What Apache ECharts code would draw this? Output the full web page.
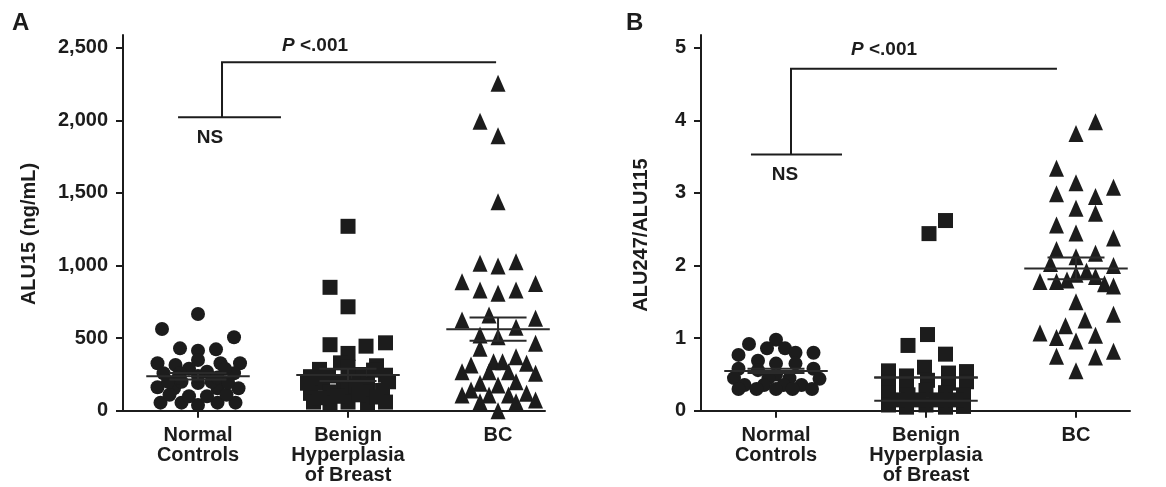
<!DOCTYPE html>
<html><head><meta charset="utf-8">
<script src="https://cdn.jsdelivr.net/npm/echarts@6/dist/echarts.min.js"></script>
<style>html,body{margin:0;padding:0;background:#fff}#c{width:1166px;height:487px}</style>
</head><body><div id="c"></div>
<script>
// ---------- data ----------
const categories = ['Normal\nControls', 'Benign\nHyperplasia\nof Breast', 'BC'];
const yTicksA = [0, 500, 1000, 1500, 2000, 2500];
const yTicksB = [0, 1, 2, 3, 4, 5];
const yTitleA = 'ALU15 (ng/mL)';
const yTitleB = 'ALU247/ALU115';

// Panel A: ALU15 (ng/mL)
const normalA = [666,563,506,430,414,423,327,315,327,327,350,290,269,258,258,258,290,162,155,155,155,191,200,200,56,56,40,56,56,100,100,110,110,240,230,230,200,195];
const normalAJitter = [0,-0.24,0.24,-0.12,0,0.12,-0.27,-0.15,0.15,0.28,0,-0.06,0.06,-0.12,-0.23,0.24,0.18,-0.27,0.27,-0.16,0.13,0,-0.11,0.09,-0.25,-0.11,0,0.13,0.25,0.06,-0.06,-0.19,0.19,0,-0.13,0.13,-0.2,0.2];
const benignA = [1270,850,716,455,445,468,395,330,285,310,240,235,250,245,190,200,185,200,120,130,140,130,140,60,55,60,50,60,90,95,170,100,110,190,300,280];
const benignAJitter = [0,-0.12,0,-0.12,0.12,0.25,0,-0.05,-0.19,0.19,-0.13,-0.25,0.07,0.25,-0.17,-0.03,0.13,0.27,-0.25,-0.12,0,0.12,0.23,-0.23,-0.12,0,0.13,0.25,-0.19,0.19,0.05,-0.07,0.07,-0.27,0,0.17];
const bcA = [2254,1994,1893,1439,1015,997,1026,888,831,809,831,877,625,659,637,575,522,510,430,465,338,338,372,327,269,315,269,269,258,189,178,200,109,143,109,109,120,63,63,74,0];
const bcAJitter = [0,-0.12,0,0,-0.12,0,0.12,-0.24,-0.12,0,0.12,0.25,-0.24,-0.06,0.25,0.12,-0.12,0,-0.12,0.25,-0.03,0.03,0.12,0.19,-0.24,-0.18,-0.06,0.07,0.25,-0.12,0,0.12,-0.24,-0.18,-0.06,0.07,0.19,-0.12,0.12,0.25,0];
const meanA = [237, 246, 561];
const semLowA = [215, 205, 482];
const semHighA = [260, 290, 643];

// Panel B: ALU247/ALU115
const normalB = [0.98,0.92,0.86,0.86,0.77,0.80,0.80,0.69,0.65,0.65,0.58,0.58,0.56,0.50,0.45,0.44,0.45,0.45,0.355,0.355,0.355,0.355,0.30,0.30,0.30,0.30,0.30];
const normalBJitter = [0,-0.18,-0.06,0.06,-0.25,0.13,0.25,-0.12,0,0.13,-0.25,0.25,-0.12,0,-0.28,0.29,-0.05,0.09,-0.21,-0.08,0.05,0.17,-0.25,-0.13,0,0.11,0.24];
const benignB = [2.44,2.62,1.05,0.90,0.78,0.55,0.60,0.48,0.52,0.54,0.40,0.35,0.42,0.38,0.40,0.25,0.22,0.28,0.25,0.22,0.08,0.05,0.08,0.05,0.06,0.15,0.15,0.15,0.15];
const benignBJitter = [0.02,0.13,0.01,-0.12,0.13,-0.25,-0.01,-0.13,0.15,0.27,-0.25,-0.13,0.01,0.15,0.27,-0.25,-0.12,0,0.13,0.25,-0.25,-0.13,0,0.13,0.25,-0.19,0.07,0.2,-0.05];
const bcB = [3.98,3.82,3.34,3.14,3.08,2.99,2.95,2.79,2.72,2.56,2.45,2.38,2.22,2.17,2.12,2.03,2.0,1.78,1.78,1.80,1.88,1.92,1.85,1.75,1.72,1.50,1.25,1.17,1.33,1.07,1.01,0.96,1.04,0.75,0.74,0.82,0.55];
const bcBJitter = [0.13,0,-0.13,0,0.25,-0.13,0.13,0,0.13,-0.13,0,0.25,-0.13,0.13,0,-0.17,0.25,-0.24,-0.13,-0.06,0,0.07,0.13,0.19,0.25,0,0.06,-0.07,0.25,-0.24,-0.13,0,0.13,-0.13,0.13,0.25,0];
const meanB = [0.547, 0.457, 1.96];
const semLowB = [0.52, 0.14, 1.81];
const semHighB = [0.58, 0.457, 2.11];
const semWideB = [false, true, false]; // benign group shows two full-width lines

// significance annotations: [ns left x, ns right x, stem x, top right x, ns y, top y]
const bracketA = [-0.133, 0.553, 0.16, 1.987, 2020, 2400];
const bracketB = [-0.167, 0.44, 0.10, 1.873, 3.53, 4.71];
const nsLabelA = [0.08, 1878];
const nsLabelB = [0.06, 3.25];
const pLabelA = [0.78, 2514];
const pLabelB = [0.72, 4.97];

// ---------- chart ----------
const FONT = '"Liberation Sans", Arial, Helvetica, sans-serif';
const INK = '#1c1c1c';
const chart = echarts.init(document.getElementById('c'), null, {renderer: 'canvas'});

function pts(vals, jit, cat) { return vals.map((v, i) => [cat + jit[i], v]); }

function xAxisFor(gi, min, max) {
  return {
    type: 'value', gridIndex: gi, min: min, max: max,
    splitLine: {show: false},
    axisLine: {show: true, onZero: false, lineStyle: {color: INK, width: 2}},
    axisTick: {show: true, customValues: [0, 1, 2], length: 7, lineStyle: {color: INK, width: 2}},
    axisLabel: {show: true, customValues: [0, 1, 2], formatter: v => categories[Math.round(v)],
      color: INK, fontFamily: FONT, fontWeight: 'bold', fontSize: 20, lineHeight: 20, margin: 15, align: 'center'}
  };
}
function yAxisFor(gi, max, ticks, fmt) {
  return {
    type: 'value', gridIndex: gi, min: 0, max: max,
    splitLine: {show: false},
    axisLine: {show: true, onZero: false, lineStyle: {color: INK, width: 2}},
    axisTick: {show: true, customValues: ticks, length: 7, lineStyle: {color: INK, width: 2}},
    axisLabel: {show: true, customValues: ticks, formatter: fmt, color: INK, fontFamily: FONT,
      fontWeight: 'bold', fontSize: 20, margin: 15}
  };
}

function meanSeries(gi, means, lo, hi, wide) {
  return {
    type: 'custom', xAxisIndex: gi, yAxisIndex: gi, z: 5, silent: true,
    data: means.map((m, i) => [i, m, lo[i], hi[i], wide ? (wide[i] ? 1 : 0) : 0]),
    renderItem: function (params, api) {
      const c = api.value(0), m = api.value(1), l = api.value(2), h = api.value(3), w = api.value(4);
      const st = {stroke: '#2a2a2a', lineWidth: 2};
      const half = 0.345, shalf = w ? 0.345 : 0.19;
      const a = api.coord([c - half, m]), b = api.coord([c + half, m]);
      const la = api.coord([c - shalf, l]), lb = api.coord([c + shalf, l]);
      const ha = api.coord([c - shalf, h]), hb = api.coord([c + shalf, h]);
      const children = [
        {type: 'line', shape: {x1: a[0], y1: a[1], x2: b[0], y2: b[1]}, style: st},
        {type: 'line', shape: {x1: la[0], y1: la[1], x2: lb[0], y2: lb[1]}, style: st},
        {type: 'line', shape: {x1: ha[0], y1: ha[1], x2: hb[0], y2: hb[1]}, style: st}
      ];
      if (!w) {
        const v1 = api.coord([c, l]), v2 = api.coord([c, h]);
        children.push({type: 'line', shape: {x1: v1[0], y1: v1[1], x2: v2[0], y2: v2[1]}, style: st});
      }
      return {type: 'group', children: children};
    }
  };
}

function annotSeries(gi, br, ns, p) {
  return {
    type: 'custom', xAxisIndex: gi, yAxisIndex: gi, z: 6, silent: true,
    data: [[0, 0]],
    renderItem: function (params, api) {
      const st = {stroke: INK, lineWidth: 2, fill: null};
      const n1 = api.coord([br[0], br[4]]), n2 = api.coord([br[1], br[4]]);
      const s1 = api.coord([br[2], br[4]]), s2 = api.coord([br[2], br[5]]), t2 = api.coord([br[3], br[5]]);
      const nsP = api.coord(ns), pP = api.coord(p);
      return {type: 'group', children: [
        {type: 'line', shape: {x1: n1[0], y1: n1[1], x2: n2[0], y2: n2[1]}, style: st},
        {type: 'polyline', shape: {points: [s1, s2, t2]}, style: st},
        {type: 'text', x: nsP[0], y: nsP[1], style: {text: 'NS', fill: INK, font: 'bold 19px ' + FONT, align: 'center', verticalAlign: 'middle'}},
        {type: 'text', x: pP[0], y: pP[1], style: {text: '{i|P} <.001', fill: INK, font: 'bold 19px ' + FONT, align: 'center', verticalAlign: 'middle',
          rich: {i: {fontStyle: 'italic', fontWeight: 'bold', fontSize: 19, fontFamily: FONT, fill: INK}}}}
      ]};
    }
  };
}

function scat(gi, data, symbol, size) {
  return {type: 'scatter', xAxisIndex: gi, yAxisIndex: gi, data: data, symbol: symbol, symbolSize: size,
    itemStyle: {color: INK, opacity: 1}, z: 3, silent: true};
}

const option = {
  animation: false,
  backgroundColor: '#fff',
  grid: [
    {left: 123, right: 621, top: 35, bottom: 76.2, containLabel: false},
    {left: 701, right: 36, top: 35, bottom: 76.2, containLabel: false}
  ],
  xAxis: [xAxisFor(0, -0.5, 2.313), xAxisFor(1, -0.5, 2.36)],
  yAxis: [
    yAxisFor(0, 2587, yTicksA, v => v.toLocaleString('en-US')),
    yAxisFor(1, 5.175, yTicksB, v => String(v))
  ],
  graphic: [
    {type: 'text', left: 12, top: 11, style: {text: 'A', font: 'bold 24px ' + FONT, fill: INK}},
    {type: 'text', left: 626, top: 11, style: {text: 'B', font: 'bold 24px ' + FONT, fill: INK}},
    {type: 'text', x: 29, y: 234, rotation: Math.PI / 2,
      style: {text: yTitleA, font: 'bold 20px ' + FONT, fill: INK, align: 'center', verticalAlign: 'middle'}},
    {type: 'text', x: 641, y: 235, rotation: Math.PI / 2,
      style: {text: yTitleB, font: 'bold 20px ' + FONT, fill: INK, align: 'center', verticalAlign: 'middle'}}
  ],
  series: [
    scat(0, pts(normalA, normalAJitter, 0), 'circle', 14),
    scat(0, pts(benignA, benignAJitter, 1), 'rect', 15),
    scat(0, pts(bcA, bcAJitter, 2), 'triangle', [15, 17]),
    meanSeries(0, meanA, semLowA, semHighA, null),
    annotSeries(0, bracketA, nsLabelA, pLabelA),
    scat(1, pts(normalB, normalBJitter, 0), 'circle', 14),
    scat(1, pts(benignB, benignBJitter, 1), 'rect', 15),
    scat(1, pts(bcB, bcBJitter, 2), 'triangle', [15, 17]),
    meanSeries(1, meanB, semLowB, semHighB, semWideB),
    annotSeries(1, bracketB, nsLabelB, pLabelB)
  ]
};
chart.setOption(option);
</script></body></html>
